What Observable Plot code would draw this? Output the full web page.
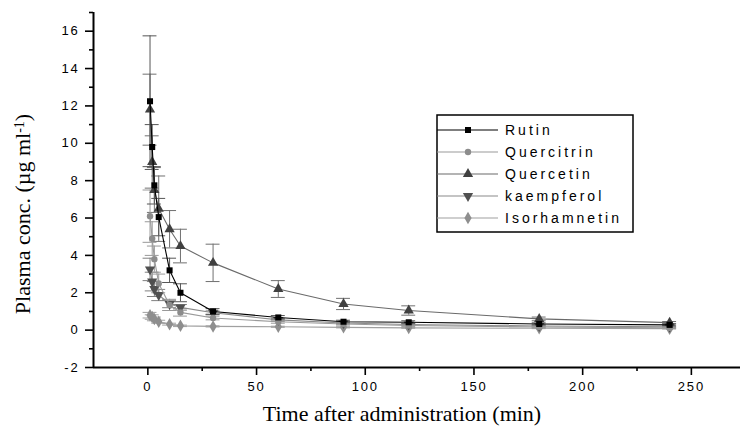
<!DOCTYPE html>
<html>
<head>
<meta charset="utf-8">
<script src="https://cdn.jsdelivr.net/npm/d3@7"></script>
<script src="https://cdn.jsdelivr.net/npm/@observablehq/plot@0.6"></script>
<style>
  html, body { margin: 0; padding: 0; background: #fff; }
  svg text { font-family: "Liberation Sans", Arial, sans-serif; }
  g[aria-label="y-axis tick label"] text,
  g[aria-label="x-axis tick label"] text { font-size: 13px; letter-spacing: 1.8px; fill: #000; }
</style>
</head>
<body>
<div id="chart"></div>
<script>
// ---- data ----
const times = [1, 2, 3, 5, 10, 15, 30, 60, 90, 120, 180, 240];

const rutin        = [12.25, 9.8, 7.75, 6.05, 3.2, 2.0, 1.0, 0.68, 0.45, 0.42, 0.33, 0.28];
const rutinSD      = [3.5, 1.2, 1.0, 1.0, 0.65, 0.48, 0.15, 0.1, 0.08, 0.08, 0.06, 0.05];
const quercitrin   = [6.1, 4.9, 3.8, 2.5, 1.35, 0.95, 0.65, 0.45, 0.33, 0.25, 0.17, 0.12];
const quercitrinSD = [1.4, 0.9, 0.7, 0.5, 0.3, 0.2, 0.1, 0.08, 0.06, 0.05, 0.04, 0.03];
const quercetin    = [11.8, 9.0, 7.5, 6.5, 5.4, 4.5, 3.6, 2.2, 1.4, 1.05, 0.6, 0.4];
const quercetinSD  = [1.9, 1.4, 1.2, 1.75, 1.0, 0.9, 1.0, 0.45, 0.3, 0.25, 0.1, 0.06];
const kaempferol   = [3.25, 2.6, 2.2, 1.88, 1.4, 1.22, 0.93, 0.55, 0.38, 0.3, 0.22, 0.18];
const kaempferolSD = [0.6, 0.5, 0.4, 0.3, 0.2, 0.15, 0.1, 0.08, 0.06, 0.05, 0.04, 0.03];
const isorhamnetin   = [0.8, 0.7, 0.6, 0.45, 0.32, 0.23, 0.2, 0.18, 0.15, 0.12, 0.1, 0.08];
const isorhamnetinSD = [0.15, 0.12, 0.1, 0.08, 0.05, 0.04, 0.03, 0.03, 0.03, 0.02, 0.02, 0.02];

const seriesNames = ["Rutin", "Quercitrin", "Quercetin", "kaempferol", "Isorhamnetin"];
const xTicks = [0, 50, 100, 150, 200, 250];
const xMinorTicks = [25, 75, 125, 175, 225];
const yTicks = [-2, 0, 2, 4, 6, 8, 10, 12, 14, 16];
const yMinorTicks = [-1, 1, 3, 5, 7, 9, 11, 13, 15, 17];
const xTitle = "Time after administration (min)";

// ---- styles ----
const triangleDown = {
  draw(context, size) {
    const y = -Math.sqrt(size / (Math.sqrt(3) * 3));
    context.moveTo(0, -y * 2);
    context.lineTo(-Math.sqrt(3) * y, y);
    context.lineTo(Math.sqrt(3) * y, y);
    context.closePath();
  }
};
const styles = {
  "Rutin":        {symbol: "square",   fill: "#000000", line: "#000000", err: "#555555", r: 3.4},
  "Quercitrin":   {symbol: "circle",   fill: "#8c8c8c", line: "#9a9a9a", err: "#999999", r: 3.2},
  "Quercetin":    {symbol: "triangle", fill: "#404040", line: "#6a6a6a", err: "#707070", r: 3.8},
  "kaempferol":   {symbol: triangleDown, fill: "#505050", line: "#8a8a8a", err: "#808080", r: 3.8},
  "Isorhamnetin": {symbol: "diamond",  fill: "#8e8e8e", line: "#a0a0a0", err: "#a0a0a0", r: 3.8}
};
const valuesBy = {
  "Rutin": [rutin, rutinSD],
  "Quercitrin": [quercitrin, quercitrinSD],
  "Quercetin": [quercetin, quercetinSD],
  "kaempferol": [kaempferol, kaempferolSD],
  "Isorhamnetin": [isorhamnetin, isorhamnetinSD]
};
const rowsFor = name => times.map((t, i) => ({series: name, t, v: valuesBy[name][0][i], sd: valuesBy[name][1][i]}));

const capHalf = 3.2; // minutes
const marks = [];
for (const name of [...seriesNames].reverse()) {
  const rows = rowsFor(name);
  const s = styles[name];
  marks.push(
    Plot.ruleX(rows, {x: "t", y1: d => d.v - d.sd, y2: d => d.v + d.sd, stroke: s.err, strokeWidth: 1}),
    Plot.ruleY(rows, {y: d => d.v + d.sd, x1: d => d.t - capHalf, x2: d => d.t + capHalf, stroke: s.err, strokeWidth: 1}),
    Plot.ruleY(rows, {y: d => d.v - d.sd, x1: d => d.t - capHalf, x2: d => d.t + capHalf, stroke: s.err, strokeWidth: 1})
  );
}
for (const name of [...seriesNames].reverse()) {
  const rows = rowsFor(name);
  const s = styles[name];
  marks.push(
    Plot.line(rows, {x: "t", y: "v", stroke: s.line, strokeWidth: 1.1}),
    Plot.dot(rows, {x: "t", y: "v", symbol: s.symbol, fill: s.fill, stroke: "none", r: s.r})
  );
}

const chart = Plot.plot({
  width: 740,
  height: 433,
  marginLeft: 93,
  marginRight: 0,
  marginTop: 12,
  marginBottom: 66,
  style: {background: "#fff", overflow: "visible"},
  x: {domain: [-25, 272.6], label: null},
  y: {domain: [-2, 17], label: null},
  marks: [
    ...marks,
    Plot.axisX(xTicks, {tickSize: 8, tickPadding: 6, strokeWidth: 1.6, stroke: "#000", tickFormat: d => d, label: null}),
    Plot.axisX(xMinorTicks, {tickSize: 4, strokeWidth: 1.6, stroke: "#000", tickFormat: () => "", label: null}),
    Plot.axisY(yTicks, {tickSize: 8, tickPadding: 6, strokeWidth: 1.6, stroke: "#000", tickFormat: d => d, label: null}),
    Plot.axisY(yMinorTicks, {tickSize: 4, strokeWidth: 1.6, stroke: "#000", tickFormat: () => "", label: null}),
    Plot.ruleX([-25], {stroke: "#000", strokeWidth: 2}),
    Plot.ruleY([-2], {stroke: "#000", strokeWidth: 2})
  ]
});

document.getElementById("chart").appendChild(chart);

// ---- titles & legend (pixel-positioned annotations) ----
const svg = d3.select(chart);
svg.append("text")
  .attr("transform", "translate(30,214) rotate(-90)")
  .attr("text-anchor", "middle")
  .style("font-family", "'Liberation Serif', 'Times New Roman', serif")
  .style("font-size", "22px")
  .attr("fill", "#000")
  .call(t => {
    t.append("tspan").text("Plasma conc. (\u00b5g ml");
    t.append("tspan").attr("dy", "-0.45em").style("font-size", "14px").text("-1");
    t.append("tspan").attr("dy", "0.3em").text(")");
  });
svg.append("text")
  .attr("x", 402).attr("y", 421)
  .attr("text-anchor", "middle")
  .style("font-family", "'Liberation Serif', 'Times New Roman', serif")
  .style("font-size", "22px")
  .attr("fill", "#000")
  .text(xTitle);

const lg = svg.append("g");
const lgLeft = 437, lgTop = 115, rowH = 22, firstRow = 130;
lg.append("rect").attr("x", lgLeft).attr("y", lgTop).attr("width", 196).attr("height", 117)
  .attr("fill", "#fff").attr("stroke", "#000").attr("stroke-width", 1.5);
seriesNames.forEach((name, i) => {
  const s = styles[name];
  const y = firstRow + i * rowH;
  lg.append("line").attr("x1", lgLeft).attr("x2", 498).attr("y1", y).attr("y2", y)
    .attr("stroke", s.line).attr("stroke-width", 1.1);
  const sym = typeof s.symbol === "string"
    ? {square: d3.symbolSquare, circle: d3.symbolCircle, triangle: d3.symbolTriangle, diamond: d3.symbolDiamond}[s.symbol]
    : s.symbol;
  lg.append("path").attr("transform", `translate(468,${y})`)
    .attr("d", d3.symbol(sym, Math.PI * s.r * s.r)())
    .attr("fill", s.fill);
  lg.append("text").attr("x", 505).attr("y", y + 5)
    .attr("text-anchor", "start")
    .style("font-size", "14px").style("letter-spacing", "3px").attr("fill", "#000")
    .text(name);
});
</script>
</body>
</html>
